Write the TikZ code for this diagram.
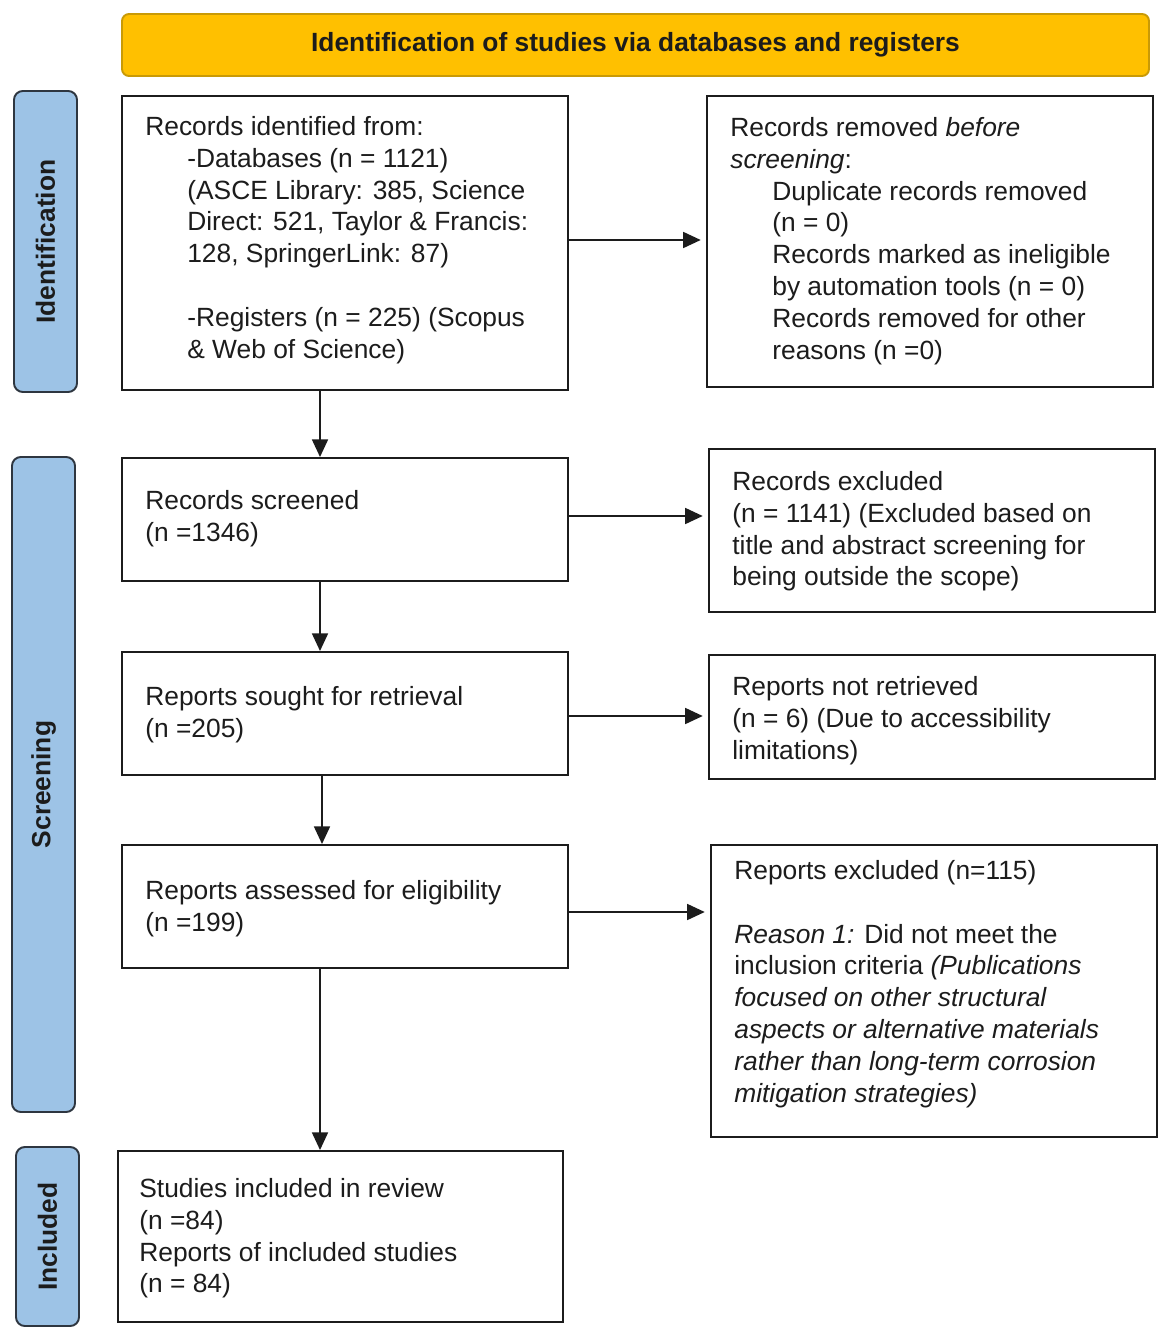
\documentclass[tikz,border=0pt]{standalone}
\usepackage{fontspec}
\setmainfont{Liberation Sans}
\usetikzlibrary{arrows.meta,positioning,fit,calc}
\definecolor{prismagold}{HTML}{FFC000}
\definecolor{prismagoldline}{HTML}{C99A06}
\definecolor{phaseblue}{HTML}{9DC3E6}
\definecolor{phaseline}{HTML}{2E3640}
\definecolor{inkgray}{HTML}{1C1C1C}

\begin{document}
\begin{tikzpicture}[x=0.02cm, y=-0.02cm, >={Triangle[length=10pt,width=9pt]},
    stagebox/.style={draw=inkgray, line width=1.1pt, fill=white, inner sep=0pt},
    phasebar/.style={draw=phaseline, fill=phaseblue, line width=1.1pt, rounded corners=5pt, inner sep=0pt},
    phaselabel/.style={rotate=90, font=\fontsize{15}{18}\selectfont\bfseries, text=inkgray},
    boxtext/.style={anchor=north west, inner sep=0pt, align=left, font=\fontsize{15}{18.1}\selectfont, text=inkgray},
    flow/.style={->, line width=1.2pt, draw=inkgray}]
        \useasboundingbox (0,0) rectangle (1171,1338);

        % Header
        \node[fit={(122,14) (1149,76)}, inner sep=0pt, rounded corners=4pt, fill=prismagold, draw=prismagoldline, line width=1.1pt] (header) {};
        \node[font=\fontsize{15}{18}\selectfont\bfseries, text=inkgray, inner sep=0pt] (headertext) at (header.center) {Identification of studies via databases and registers};

        % Phase bars on the left
        \node[phasebar, fit={(14,91) (77,392)}] (idbar) {};
        \node[phaselabel] (idlabel) at (idbar.center) {Identification};
        \node[phasebar, fit={(12,457) (75,1112)}] (scbar) {};
        \node[phaselabel] (sclabel) at (scbar.center) {Screening};
        \node[phasebar, fit={(16,1147) (79,1326)}] (inbar) {};
        \node[phaselabel] (inlabel) at (inbar.center) {Included};

        % Identification
        \node[stagebox, fit={(122,96) (568,390)}] (idrec) {};
        \node[boxtext] (idrectext) at (145,116) {Records identified from:\\
            \hspace*{0.84cm}-Databases (n = 1121)\\
            \hspace*{0.84cm}(ASCE Library: 385, Science\\
            \hspace*{0.84cm}Direct: 521, Taylor \& Francis:\\
            \hspace*{0.84cm}128, SpringerLink: 87)\\[18.1pt]
            \hspace*{0.84cm}-Registers (n = 225) (Scopus\\
            \hspace*{0.84cm}\& Web of Science)};

        \node[stagebox, fit={(707,96) (1153,387)}] (removed) {};
        \node[boxtext] (removedtext) at (730,117) {Records removed \textit{before}\\
            \textit{screening}:\\
            \hspace*{0.84cm}Duplicate records removed\\
            \hspace*{0.84cm}(n = 0)\\
            \hspace*{0.84cm}Records marked as ineligible\\
            \hspace*{0.84cm}by automation tools (n = 0)\\
            \hspace*{0.84cm}Records removed for other\\
            \hspace*{0.84cm}reasons (n =0)};

        % Screening
        \node[stagebox, fit={(122,458) (568,581)}] (screened) {};
        \node[boxtext] (screenedtext) at (145,490) {Records screened\\(n =1346)};

        \node[stagebox, fit={(709,449) (1155,612)}] (excluded) {};
        \node[boxtext] (excludedtext) at (732,471) {Records excluded\\
            (n = 1141) (Excluded based on\\
            title and abstract screening for\\
            being outside the scope)};

        \node[stagebox, fit={(122,652) (568,775)}] (sought) {};
        \node[boxtext] (soughttext) at (145,686) {Reports sought for retrieval\\(n =205)};

        \node[stagebox, fit={(709,655) (1155,779)}] (notretr) {};
        \node[boxtext] (notretrtext) at (732,676) {Reports not retrieved\\
            (n = 6) (Due to accessibility\\
            limitations)};

        \node[stagebox, fit={(122,845) (568,968)}] (assessed) {};
        \node[boxtext] (assessedtext) at (145,880) {Reports assessed for eligibility\\(n =199)};

        \node[stagebox, fit={(711,845) (1157,1137)}] (repexcl) {};
        \node[boxtext] (repexcltext) at (734,860) {Reports excluded (n=115)\\[18.1pt]
            \textit{Reason 1:} Did not meet the\\
            inclusion criteria \textit{(Publications}\\
            \textit{focused on other structural}\\
            \textit{aspects or alternative materials}\\
            \textit{rather than long-term corrosion}\\
            \textit{mitigation strategies)}};

        % Included
        \node[stagebox, fit={(118,1151) (563,1322)}] (included) {};
        \node[boxtext] (includedtext) at (139,1178) {Studies included in review\\
            (n =84)\\
            Reports of included studies\\
            (n = 84)};

        % Arrows
        \draw[flow, shorten >=3pt] ([yshift=0.06cm]idrec.east) -- ([yshift=0.06cm]idrec.east -| removed.west);
        \draw[flow, shorten >=3pt] ([yshift=0.07cm]screened.east) -- ([yshift=0.07cm]screened.east -| excluded.west);
        \draw[flow, shorten >=3pt] ([yshift=-0.05cm]sought.east) -- ([yshift=-0.05cm]sought.east -| notretr.west);
        \draw[flow, shorten >=3pt] ([yshift=-0.11cm]assessed.east) -- ([yshift=-0.11cm]assessed.east -| repexcl.west);
        \draw[flow] ([xshift=-0.5cm]idrec.south) -- ([xshift=-0.5cm]idrec.south |- screened.north);
        \draw[flow] ([xshift=-0.5cm]screened.south) -- ([xshift=-0.5cm]screened.south |- sought.north);
        \draw[flow] ([xshift=-0.46cm]sought.south) -- ([xshift=-0.46cm]sought.south |- assessed.north);
        \draw[flow] ([xshift=-0.5cm]assessed.south) -- ([xshift=-0.5cm]assessed.south |- included.north);
\end{tikzpicture}
\end{document}
